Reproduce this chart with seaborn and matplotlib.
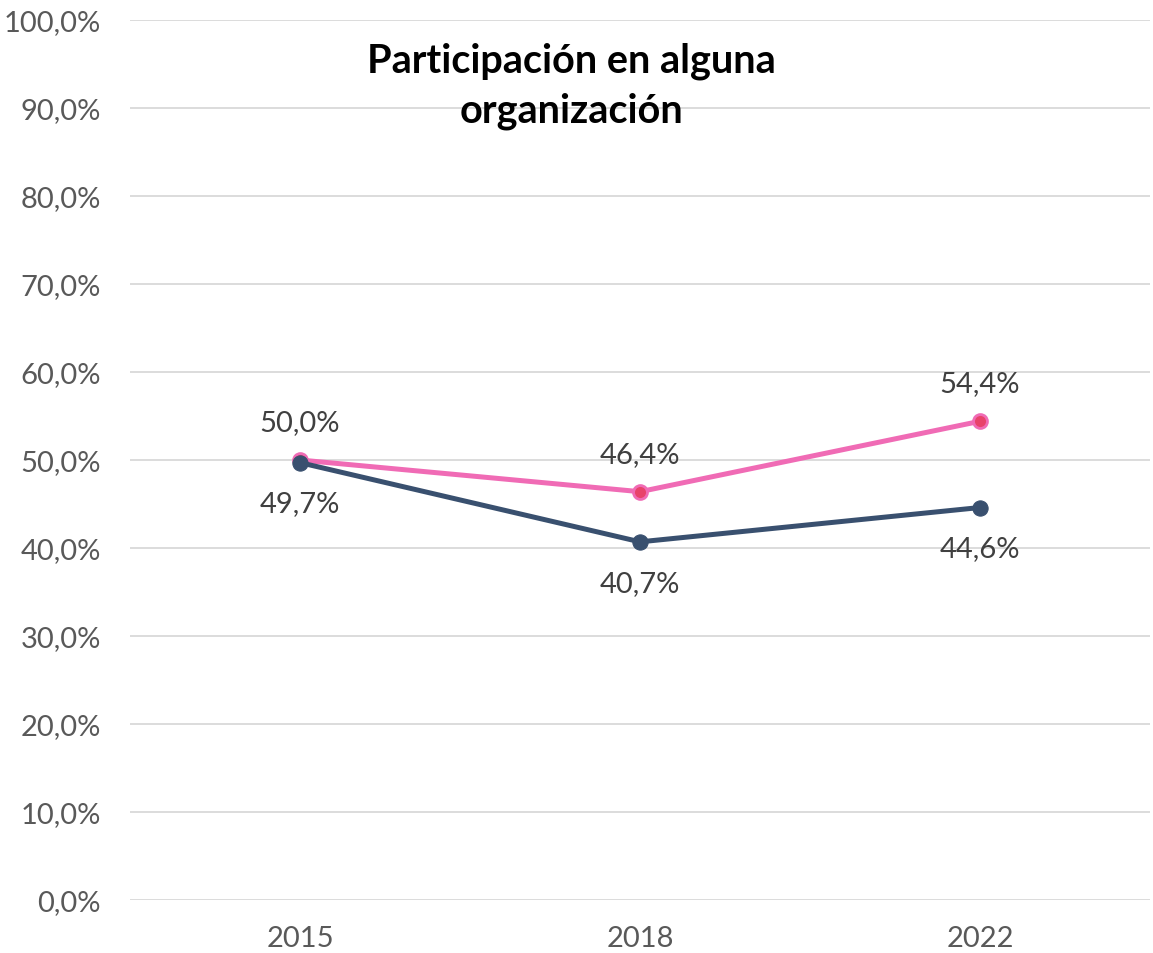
import matplotlib
matplotlib.use('Agg')
import matplotlib.pyplot as plt
import pandas as pd
import seaborn as sns

years = ['2015', '2018', '2022']
pink_vals = [50.0, 46.4, 54.4]
navy_vals = [49.7, 40.7, 44.6]
y_ticks = [0, 10, 20, 30, 40, 50, 60, 70, 80, 90, 100]

df = pd.DataFrame({'year': years * 2,
                   'value': pink_vals + navy_vals,
                   'serie': ['rosa'] * 3 + ['azul'] * 3})
df['x'] = list(range(len(years))) * 2

sns.set_theme(style='white')
plt.rcParams['font.family'] = ['Lato', 'DejaVu Sans']

fig = plt.figure(figsize=(11.53, 9.54), dpi=100)
ax = fig.add_axes([130 / 1153, 1 - 901 / 954, 1020 / 1153, 880 / 954])

for y in y_ticks:
    ax.axhline(y, color='#d9d9d9', lw=1.3, zorder=0)

sns.lineplot(data=df[df.serie == 'rosa'], x='x', y='value', color='#f06bb5',
             lw=3.6, marker='o', markersize=10, markerfacecolor='#e8436a',
             markeredgecolor='#f06bb5', markeredgewidth=2, ax=ax, zorder=3)
sns.lineplot(data=df[df.serie == 'azul'], x='x', y='value', color='#39506f',
             lw=3.6, marker='o', markersize=11, markerfacecolor='#39506f',
             markeredgecolor='#39506f', ax=ax, zorder=4)

def fmt(v):
    return f'{v:.1f}%'.replace('.', ',')

for i, v in enumerate(pink_vals):
    ax.annotate(fmt(v), (i, v), xytext=(0, 18), textcoords='offset points',
                ha='center', va='bottom', fontsize=21, color='#404040')
for i, v in enumerate(navy_vals):
    ax.annotate(fmt(v), (i, v), xytext=(0, -20), textcoords='offset points',
                ha='center', va='top', fontsize=21, color='#404040')

ax.set_xlim(-0.5, 2.5)
ax.set_ylim(0, 100)
ax.set_xticks(range(len(years)))
ax.set_xticklabels(years)
ax.set_yticks(y_ticks)
ax.set_yticklabels([fmt(v) for v in y_ticks])
ax.tick_params(axis='both', labelsize=21, labelcolor='#595959', length=0)
ax.tick_params(axis='y', pad=21)
ax.tick_params(axis='x', pad=18)
ax.set_xlabel('')
ax.set_ylabel('')
for s in ax.spines.values():
    s.set_visible(False)

ax.text(0.433, 0.975, 'Participación en alguna\norganización', transform=ax.transAxes,
        ha='center', va='top', fontsize=28.5, fontweight='bold', color='black',
        linespacing=1.4)

fig.savefig('out.png', dpi=100)
